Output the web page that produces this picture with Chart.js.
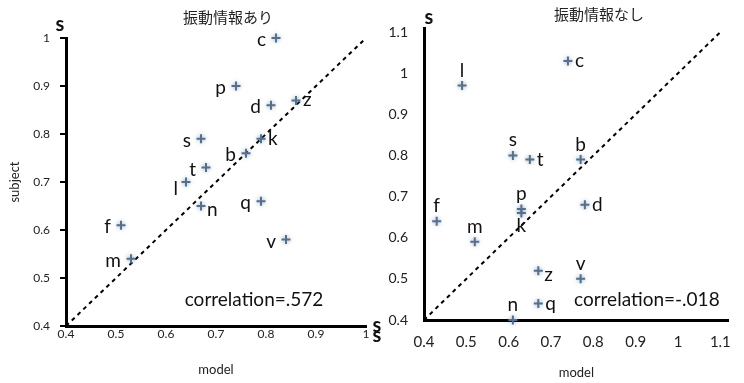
<!DOCTYPE html>
<html>
<head>
<meta charset="utf-8">
<script src="https://cdn.jsdelivr.net/npm/chart.js@4"></script>
<style>
html, body { margin:0; padding:0; background:#fff; overflow:hidden; }
#leftChart { position:absolute; left:0; top:0; }
#rightChart { position:absolute; left:372px; top:0; }
</style>
</head>
<body>
<canvas id="leftChart" width="385" height="383"></canvas>
<canvas id="rightChart" width="372" height="383"></canvas>
<script>
// phonemes (one point each)
const letters = ['b','c','d','f','k','l','m','n','p','q','s','t','v','z'];

// 振動情報あり
const modelWith   = [0.76,0.82,0.81,0.51,0.79,0.64,0.53,0.67,0.74,0.79,0.67,0.68,0.84,0.86];
const subjectWith = [0.76,1.00,0.86,0.61,0.79,0.70,0.54,0.65,0.90,0.66,0.79,0.73,0.58,0.87];

// 振動情報なし
const modelWithout   = [0.77,0.74,0.78,0.43,0.63,0.49,0.52,0.61,0.63,0.67,0.61,0.65,0.77,0.67];
const subjectWithout = [0.79,1.03,0.68,0.64,0.66,0.97,0.59,0.40,0.67,0.44,0.80,0.79,0.50,0.52];

// y = x reference line ends
const diagWith = [0.4, 1.0];
const diagWithout = [0.4, 1.1];

const ticksWith = [0.4,0.5,0.6,0.7,0.8,0.9,1];
const ticksWithout = [0.4,0.5,0.6,0.7,0.8,0.9,1,1.1];

const titleWith = '振動情報あり';
const titleWithout = '振動情報なし';
const corrWith = 'correlation=.572';
const corrWithout = 'correlation=-.018';

// where each letter sits next to its cross
const leftPlace = {b:'w',c:'w',d:'w',f:'w',k:'e',l:'sw',m:'w',n:'se',p:'w',q:'w',s:'w',t:'w',v:'w',z:'e'};
const rightPlace = {b:'n',c:'e',d:'e',f:'n',k:'s',l:'n',m:'n',n:'n',p:'n',q:'e',s:'n',t:'e',v:'n',z:'se'};
const placeOffsets = {
    w:  {dx:-10, dy:8,  align:'right'},
    e:  {dx:7,   dy:6,  align:'left'},
    n:  {dx:0,   dy:-9, align:'center'},
    s:  {dx:0,   dy:19, align:'center'},
    sw: {dx:-8,  dy:13, align:'right'},
    se: {dx:6,   dy:10, align:'left'}
};

const FONT = 'Lato, "Noto Sans", sans-serif';
const CJK = '"Noto Sans CJK JP", "Noto Sans", sans-serif';

const toPoints = (xs, ys) => xs.map((x, i) => ({x: x, y: ys[i]}));
const fmt = v => String(+v.toFixed(1));

const glowPlugin = {
    id: 'glow',
    beforeDatasetDraw(chart, args) {
        if (args.index !== 0) return;
        chart.ctx.save();
        chart.ctx.shadowColor = 'rgba(80,110,140,0.55)';
        chart.ctx.shadowBlur = 4;
    },
    afterDatasetDraw(chart, args) {
        if (args.index !== 0) return;
        chart.ctx.restore();
    }
};

function makeOverlay(opts) {
    return {
        id: 'overlay',
        afterDatasetsDraw(chart) {
            const ctx = chart.ctx;
            ctx.save();
            // letter labels
            ctx.fillStyle = '#111';
            ctx.font = '19px ' + FONT;
            ctx.textBaseline = 'alphabetic';
            chart.getDatasetMeta(0).data.forEach((pt, i) => {
                const o = placeOffsets[opts.place[letters[i]]];
                ctx.textAlign = o.align;
                ctx.fillText(letters[i], pt.x + o.dx, pt.y + o.dy);
            });
            // title
            ctx.font = '15px ' + CJK;
            ctx.fillStyle = '#222';
            ctx.textAlign = 'center';
            ctx.textBaseline = 'middle';
            ctx.fillText(opts.title, opts.titleX, opts.titleY);
            // correlation
            ctx.font = '19px ' + FONT;
            ctx.fillStyle = '#111';
            ctx.textAlign = opts.corrAlign;
            ctx.fillText(opts.corr, opts.corrX, opts.corrY);
            // stray "s" marks
            ctx.font = 'bold 20px ' + FONT;
            ctx.textAlign = 'center';
            opts.sMarks.forEach(m => ctx.fillText('s', m[0], m[1]));
            ctx.restore();
        }
    };
}

function buildChart(id, cfg) {
    return new Chart(document.getElementById(id), {
        type: 'scatter',
        data: {
            datasets: [
                {
                    data: toPoints(cfg.model, cfg.subject),
                    pointStyle: 'cross',
                    pointRadius: 4.5,
                    pointHoverRadius: 4.5,
                    borderWidth: 2,
                    borderColor: '#55708d',
                    backgroundColor: '#55708d',
                    clip: false
                },
                {
                    type: 'line',
                    data: toPoints(cfg.diag, cfg.diag),
                    borderColor: '#000',
                    borderWidth: 2,
                    borderDash: [4, 4],
                    pointRadius: 0,
                    fill: false,
                    clip: false
                }
            ]
        },
        options: {
            responsive: false,
            animation: false,
            events: [],
            layout: { padding: cfg.padding },
            plugins: { legend: { display: false }, tooltip: { enabled: false } },
            scales: {
                x: {
                    type: 'linear',
                    min: 0.4,
                    max: cfg.xMax,
                    afterBuildTicks: s => { s.ticks = cfg.ticks.map(v => ({value: v})); },
                    afterFit: s => { s.height = cfg.xHeight; },
                    grid: { display: false, drawTicks: false },
                    border: { display: true, color: '#000', width: 3 },
                    ticks: { font: { family: FONT, size: cfg.xFont }, color: '#222', padding: cfg.xPad, maxRotation: 0, callback: fmt },
                    title: { display: true, text: 'model', font: { family: FONT, size: 13 }, color: '#222', padding: { top: 0, bottom: cfg.modelPad } }
                },
                y: {
                    type: 'linear',
                    min: 0.4,
                    max: cfg.yMax,
                    afterBuildTicks: s => { s.ticks = cfg.ticks.map(v => ({value: v})); },
                    afterFit: s => { s.width = cfg.yWidth; },
                    grid: cfg.yTicks
                        ? { display: true, drawOnChartArea: false, drawTicks: true, tickLength: 6, color: '#000', lineWidth: 2 }
                        : { display: false, drawTicks: false },
                    border: { display: true, color: '#000', width: 3 },
                    ticks: { font: { family: FONT, size: cfg.yFont }, color: '#222', padding: cfg.yPad, callback: fmt },
                    title: { display: cfg.yTitle, text: 'subject', font: { family: FONT, size: 13 }, color: '#222', padding: { top: 7, bottom: 0 } }
                }
            }
        },
        plugins: [glowPlugin, makeOverlay(cfg.overlay)]
    });
}

buildChart('leftChart', {
    model: modelWith, subject: subjectWith, diag: diagWith, ticks: ticksWith,
    xMax: 1.0, yMax: 1.0,
    padding: { left: 0, right: 19, top: 38, bottom: 0 },
    xHeight: 57, yWidth: 66,
    xFont: 12, yFont: 12, xPad: 1, yPad: 10, modelPad: 5,
    yTicks: true, yTitle: true,
    overlay: {
        place: leftPlace, title: titleWith, titleX: 228, titleY: 17,
        corr: corrWith, corrX: 254, corrY: 300, corrAlign: 'center',
        sMarks: [[60, 25], [377, 326]]
    }
});

buildChart('rightChart', {
    model: modelWithout, subject: subjectWithout, diag: diagWithout, ticks: ticksWithout,
    xMax: 1.12, yMax: 1.11,
    padding: { left: 0, right: 5, top: 28, bottom: 0 },
    xHeight: 63, yWidth: 52,
    xFont: 15, yFont: 14, xPad: 13, yPad: 16, modelPad: 2,
    yTicks: false, yTitle: false,
    overlay: {
        place: rightPlace, title: titleWithout, titleX: 227, titleY: 14,
        corr: corrWithout, corrX: 202, corrY: 300, corrAlign: 'left',
        sMarks: [[57, 18], [5, 336]]
    }
});
</script>
</body>
</html>
